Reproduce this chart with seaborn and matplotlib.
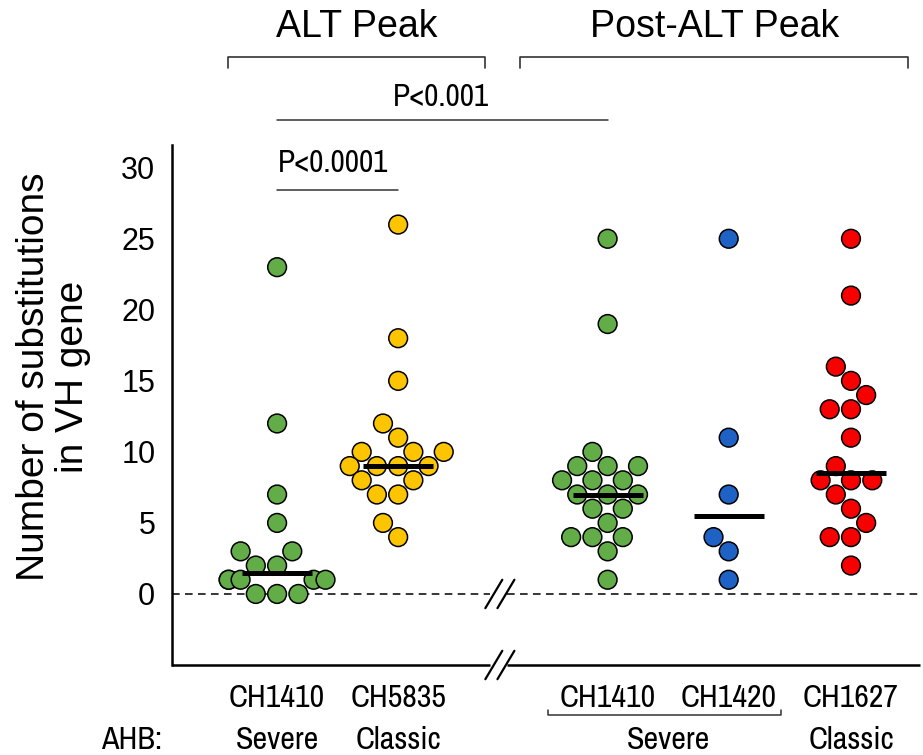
import numpy as np
import pandas as pd
import matplotlib
matplotlib.use("Agg")
import matplotlib.pyplot as plt
import seaborn as sns
from matplotlib import font_manager

# ---------------- data ----------------
categories = ["CH1410", "CH5835", "CH1410 ", "CH1420", "CH1627"]
tick_labels = ["CH1410", "CH5835", "CH1410", "CH1420", "CH1627"]
ahb = ["Severe", "Classic", "Severe", "Severe", "Classic"]
ch1410_alt = [23, 12, 7, 5, 3, 3, 2, 2, 1, 1, 1, 1, 1, 0, 0, 0]
ch5835_alt = [26, 18, 15, 12, 11, 10, 10, 10, 9, 9, 9, 9, 8, 8, 7, 7, 5, 4]
ch1410_post = [25, 19, 10, 9, 9, 9, 8, 8, 8, 7, 7, 7, 6, 6, 5, 4, 4, 4, 3, 1]
ch1420_post = [25, 11, 7, 4, 3, 1]
ch1627_post = [25, 21, 16, 15, 14, 13, 13, 11, 9, 8, 8, 8, 7, 6, 5, 4, 4, 2]
series = [ch1410_alt, ch5835_alt, ch1410_post, ch1420_post, ch1627_post]
p_labels = ["P<0.0001", "P<0.001"]

# ---------------- layout / style ----------------
positions = [0.0, 1.0, 2.73, 3.73, 4.74]
colors = ["#62ad47", "#fcc500", "#1f62c6", "#f70000"]
group_colors = [colors[0], colors[1], colors[0], colors[2], colors[3]]

avail = {f.name for f in font_manager.fontManager.ttflist}
REG = "Liberation Sans" if "Liberation Sans" in avail else "DejaVu Sans"
NAR = REG
for cand in ["Archivo Narrow", "Barlow Semi Condensed", "Asap Condensed"]:
    if cand in avail:
        NAR = cand
        break

sns.set_style("white")
plt.rcParams["font.family"] = [REG, "DejaVu Sans"]
plt.rcParams["text.color"] = "black"
plt.rcParams["axes.labelcolor"] = "black"
plt.rcParams["xtick.color"] = "black"
plt.rcParams["ytick.color"] = "black"

rows = []
for cat, pos, vals in zip(categories, positions, series):
    for v in vals:
        rows.append({"group": cat, "pos": pos, "value": v})
df = pd.DataFrame(rows)

fig = plt.figure(figsize=(9.23, 7.55), dpi=100)
ax = fig.add_axes([172 / 923, 1 - 665 / 755, (920 - 172) / 923, (665 - 145) / 755])

sns.swarmplot(data=df, x="pos", y="value", hue="group", hue_order=categories,
              palette=dict(zip(categories, group_colors)), native_scale=True,
              size=13.5, edgecolor="black", linewidth=1.1, legend=False,
              ax=ax, zorder=3, warn_thresh=1)

for pos, vals in zip(positions, series):
    m = np.median(vals)
    ax.hlines(m, pos - 0.29, pos + 0.29, color="black", lw=3.6, zorder=4)

xmin, xmax = -0.868, 5.31
ax.set_xlim(xmin, xmax)
ax.set_ylim(-5, 31.6)

brk_l, brk_r = 1.76, 1.90
ax.plot([xmin, brk_l], [0, 0], ls=(0, (5, 3.5)), color="black", lw=1.1, zorder=1)
ax.plot([brk_r, xmax], [0, 0], ls=(0, (5, 3.5)), color="black", lw=1.1, zorder=1)

for s in ["top", "right", "bottom"]:
    ax.spines[s].set_visible(False)
ax.spines["left"].set_linewidth(1.8)
ax.spines["left"].set_color("black")
ax.plot([xmin, brk_l], [-5, -5], color="black", lw=1.8, clip_on=False, solid_capstyle="butt")
ax.plot([brk_r, xmax], [-5, -5], color="black", lw=1.8, clip_on=False, solid_capstyle="butt")

for yc in [0, -5]:
    for xc in [1.79, 1.89]:
        ax.plot([xc - 0.07, xc + 0.07], [yc - 1.0, yc + 1.0], color="black", lw=1.6,
                clip_on=False, zorder=5)

ax.set_yticks(range(0, 31, 5))
ax.tick_params(axis="y", direction="in", length=9, width=1.2, labelsize=22, pad=12)
ax.set_xticks(positions)
ax.set_xticklabels(tick_labels, fontsize=23, fontfamily=NAR)
ax.tick_params(axis="x", direction="in", length=10, width=1.2, pad=14)
ax.set_xlabel("")
ax.set_ylabel("Number of substitutions\nin VH gene", fontsize=28, linespacing=1.1)
ax.yaxis.set_label_coords(-0.108, 0.554)

for pos, lab in zip(positions, ahb):
    if pos in (positions[2], positions[3]):
        continue
    ax.text(pos, -10.3, lab, ha="center", va="center", fontsize=23, fontfamily=NAR, clip_on=False)
ax.text((positions[2] + positions[3]) / 2, -10.3, "Severe", ha="center", va="center",
        fontsize=23, fontfamily=NAR, clip_on=False)
ax.text(-1.2, -10.3, "AHB:", ha="center", va="center", fontsize=23, fontfamily=NAR, clip_on=False)
ax.plot([2.24, 2.24, 4.16, 4.16], [-8.2, -8.55, -8.55, -8.2], color="#333333", lw=1.1, clip_on=False)

def bracket(x0, x1, y, txt, ty):
    ax.plot([x0, x0, x1, x1], [y - 0.75, y, y, y - 0.75], color="#333333", lw=1.2, clip_on=False)
    ax.text((x0 + x1) / 2, ty, txt, ha="center", va="center", fontsize=27, clip_on=False)

bracket(-0.405, 1.72, 37.8, "ALT Peak", 39.9)
bracket(2.01, 5.21, 37.8, "Post-ALT Peak", 39.9)

ax.plot([positions[0], positions[1]], [28.45, 28.45], color="#333333", lw=1.1, clip_on=False)
ax.text((positions[0] + positions[1]) / 2 - 0.04, 30.3, p_labels[0], ha="center", va="center",
        fontsize=22.5, fontfamily=NAR, clip_on=False)
ax.plot([positions[0], positions[2]], [33.36, 33.36], color="#333333", lw=1.1, clip_on=False)
ax.text(1.35, 35.0, p_labels[1], ha="center", va="center", fontsize=22.5, fontfamily=NAR,
        clip_on=False)

fig.savefig("out.png", dpi=100, facecolor="white")
